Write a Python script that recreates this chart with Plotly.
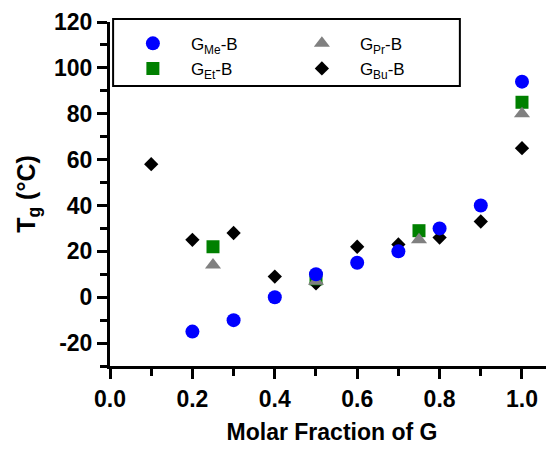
import plotly.graph_objects as go

x_me = [0.2, 0.3, 0.4, 0.5, 0.6, 0.7, 0.8, 0.9, 1.0]
tg_me = [-15, -10, 0, 10, 15, 20, 30, 40, 94]
x_et = [0.25, 0.5, 0.75, 1.0]
tg_et = [22, 8, 29, 85]
x_pr = [0.25, 0.5, 0.75, 1.0]
tg_pr = [14, 7, 25, 80]
x_bu = [0.1, 0.2, 0.3, 0.4, 0.5, 0.6, 0.7, 0.8, 0.9, 1.0]
tg_bu = [58, 25, 28, 9, 6, 22, 23, 26, 33, 65]

x_ticks = [0, 0.2, 0.4, 0.6, 0.8, 1.0]
x_ticklabels = ["0.0", "0.2", "0.4", "0.6", "0.8", "1.0"]
y_ticks = [-20, 0, 20, 40, 60, 80, 100, 120]
y_ticklabels = ["-20", "0", "20", "40", "60", "80", "100", "120"]

FONT = "Liberation Sans, Arial, sans-serif"

fig = go.Figure()
fig.add_trace(go.Scatter(x=x_bu, y=tg_bu, mode="markers", name="G<sub>Bu</sub>-B", legendrank=4,
                         marker=dict(symbol="diamond", size=11, color="black")))
fig.add_trace(go.Scatter(x=x_et, y=tg_et, mode="markers", name="G<sub>Et</sub>-B", legendrank=3,
                         marker=dict(symbol="square", size=13, color="#008000")))
fig.add_trace(go.Scatter(x=x_pr, y=tg_pr, mode="markers", name="G<sub>Pr</sub>-B", legendrank=2,
                         marker=dict(symbol="triangle-up", size=14, color="#808080")))
fig.add_trace(go.Scatter(x=x_me, y=tg_me, mode="markers", name="G<sub>Me</sub>-B", legendrank=1,
                         marker=dict(symbol="circle", size=14, color="#0000ff")))

fig.update_layout(
    width=546, height=442,
    margin=dict(l=102, r=0, t=14, b=84),
    plot_bgcolor="white", paper_bgcolor="white",
    font=dict(family=FONT, color="black"),
    showlegend=True,
    legend=dict(orientation="h", x=0.011, y=0.989, xanchor="left", yanchor="top",
                entrywidth=88, itemwidth=66, bgcolor="rgba(0,0,0,0)",
                font=dict(size=17, family=FONT), traceorder="normal"),
    shapes=[dict(type="rect", xref="paper", yref="paper", x0=0.007, x1=0.788, y0=0.814, y1=1.009,
                 line=dict(color="black", width=2))],
)
fig.update_xaxes(range=[0, 1.0777], tickvals=x_ticks, ticktext=x_ticklabels, automargin=False,
                 showline=True, linecolor="black", linewidth=3, showgrid=False, zeroline=False,
                 ticks="outside", ticklen=10, tickwidth=3, tickcolor="black",
                 minor=dict(dtick=0.1, tick0=0, ticks="outside", ticklen=7, tickwidth=3, tickcolor="black"),
                 tickfont=dict(size=23, family=FONT, weight="bold"),
                 title=dict(text="Molar Fraction of G", font=dict(size=23, family=FONT, weight="bold"), standoff=14))
fig.update_yaxes(range=[-30, 120], tickvals=y_ticks, ticktext=y_ticklabels, automargin=False,
                 showline=True, linecolor="black", linewidth=3, showgrid=False, zeroline=False,
                 ticks="outside", ticklen=10, tickwidth=3, tickcolor="black",
                 minor=dict(dtick=10, tick0=0, ticks="outside", ticklen=7, tickwidth=3, tickcolor="black"),
                 tickfont=dict(size=23, family=FONT, weight="bold"),
                 title=dict(text="T<sub>g</sub> (°C)", font=dict(size=25, family=FONT, weight="bold"), standoff=12))

fig.write_html("out.html")
